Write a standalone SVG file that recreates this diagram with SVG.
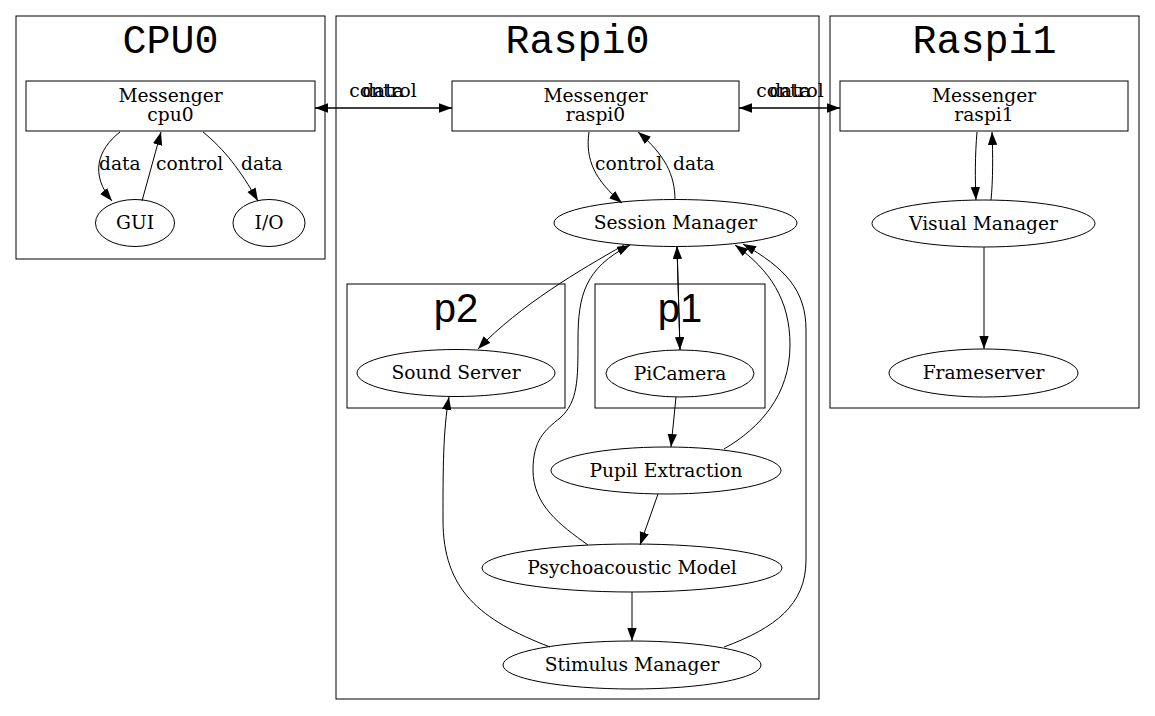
<svg xmlns="http://www.w3.org/2000/svg" width="1155" height="716" viewBox="0 0 1155 716">
<style>
.cl{fill:none;stroke:#000;stroke-width:1}
.nd{fill:none;stroke:#000;stroke-width:1}
.e{fill:none;stroke:#000;stroke-width:1;marker-end:url(#ah)}
.t{font-family:"DejaVu Serif","Liberation Serif",serif;font-size:18.67px;fill:#000}
.m{text-anchor:middle}
.ct{font-family:"Liberation Mono","DejaVu Sans Mono",monospace;font-size:40px;text-anchor:middle;fill:#000}
.pt{font-family:"Liberation Sans",Arial,sans-serif;font-size:40px;text-anchor:middle;fill:#000}
</style>
<defs>
<marker id="ah" markerUnits="userSpaceOnUse" viewBox="0 0 14 10" markerWidth="14" markerHeight="10" refX="13" refY="4.7" orient="auto"><path d="M0,0 L13,4.7 L0,9.4 z" fill="#000"/></marker>
</defs>
<rect width="1155" height="716" fill="#fff"/>
<g id="cluster_cpu0">
<rect class="cl" x="16" y="16" width="309" height="243"/>
<text class="ct" x="170.5" y="53">CPU0</text>
</g>
<g id="cluster_raspi0">
<rect class="cl" x="336" y="16" width="483" height="683"/>
<text class="ct" x="577.5" y="53">Raspi0</text>
</g>
<g id="cluster_raspi1">
<rect class="cl" x="830" y="16" width="309" height="392"/>
<text class="ct" x="984.5" y="53">Raspi1</text>
</g>
<g id="cluster_p2">
<rect class="cl" x="347" y="284" width="218" height="124"/>
<text class="pt" x="456" y="322">p2</text>
</g>
<g id="cluster_p1">
<rect class="cl" x="595" y="284" width="170" height="124"/>
<text class="pt" x="680" y="322">p1</text>
</g>
<g id="messenger_cpu0">
<rect class="nd" x="26" y="81" width="289" height="50"/>
<text class="t m" x="170.5" y="102">Messenger</text>
<text class="t m" x="170.5" y="121">cpu0</text>
</g>
<g id="gui">
<ellipse class="nd" cx="135" cy="223" rx="39.5" ry="23.5"/>
<text class="t m" x="135" y="229">GUI</text>
</g>
<g id="io">
<ellipse class="nd" cx="269" cy="223" rx="36" ry="23.5"/>
<text class="t m" x="269" y="229">I/O</text>
</g>
<g id="messenger_raspi0">
<rect class="nd" x="452" y="81" width="287" height="50"/>
<text class="t m" x="595.5" y="102">Messenger</text>
<text class="t m" x="595.5" y="121">raspi0</text>
</g>
<g id="session_manager">
<ellipse class="nd" cx="675.5" cy="223" rx="121.5" ry="23.5"/>
<text class="t m" x="675.5" y="229">Session Manager</text>
</g>
<g id="sound_server">
<ellipse class="nd" cx="456" cy="373" rx="99" ry="23.5"/>
<text class="t m" x="456" y="379">Sound Server</text>
</g>
<g id="picamera">
<ellipse class="nd" cx="680" cy="373.5" rx="74" ry="23.5"/>
<text class="t m" x="680" y="379.5">PiCamera</text>
</g>
<g id="pupil_extraction">
<ellipse class="nd" cx="666" cy="470.5" rx="115" ry="23.5"/>
<text class="t m" x="666" y="476.5">Pupil Extraction</text>
</g>
<g id="psychoacoustic_model">
<ellipse class="nd" cx="632" cy="568" rx="150" ry="24"/>
<text class="t m" x="632" y="574">Psychoacoustic Model</text>
</g>
<g id="stimulus_manager">
<ellipse class="nd" cx="632" cy="665" rx="129" ry="24"/>
<text class="t m" x="632" y="671">Stimulus Manager</text>
</g>
<g id="messenger_raspi1">
<rect class="nd" x="840" y="81" width="288" height="50"/>
<text class="t m" x="984" y="102">Messenger</text>
<text class="t m" x="984" y="121">raspi1</text>
</g>
<g id="visual_manager">
<ellipse class="nd" cx="983.5" cy="223.5" rx="111.5" ry="23.5"/>
<text class="t m" x="983.5" y="229.5">Visual Manager</text>
</g>
<g id="frameserver">
<ellipse class="nd" cx="983.5" cy="373" rx="94.5" ry="24"/>
<text class="t m" x="983.5" y="379">Frameserver</text>
</g>
<g id="edges">
<path class="e" d="M120,132 C97,150 90,175 112,201"/>
<text class="t" x="99" y="170">data</text>
<path class="e" d="M142,201 L161,132"/>
<text class="t" x="156" y="170">control</text>
<path class="e" d="M203,132 C225,150 240,170 258,201"/>
<text class="t" x="241" y="170">data</text>
<path class="e" d="M315,108 L452,108"/>
<path class="e" d="M452,108 L315,108"/>
<text class="t m" x="383" y="97">control</text>
<text class="t m" x="383" y="97">data</text>
<path class="e" d="M739,108 L840,108"/>
<path class="e" d="M840,108 L739,108"/>
<text class="t m" x="790" y="97">control</text>
<text class="t m" x="790" y="97">data</text>
<path class="e" d="M589,132 C585,160 595,180 622,203"/>
<text class="t" x="595" y="170">control</text>
<path class="e" d="M675,200 C675,175 665,155 638,132"/>
<text class="t" x="673" y="170">data</text>
<path class="e" d="M624,245 C580,270 520,305 478,349"/>
<path class="e" d="M677,246 L680,350"/>
<path class="e" d="M680,350 L677,246"/>
<path class="e" d="M676,397 L671,447"/>
<path class="e" d="M658,494 L640,545"/>
<path class="e" d="M632,592 L632,641"/>
<path class="e" d="M550,647 C480,620 443,590 443,520 C443,470 443,430 449,397"/>
<path class="e" d="M588,545 C560,525 533,505 533,470 C533,440 545,430 560,418 C578,402 578,380 578,340 C578,295 585,268 630,245"/>
<path class="e" d="M724,449 C760,428 790,395 790,345 C790,300 770,270 735,245"/>
<path class="e" d="M724,647 C775,628 806,605 806,560 L806,330 C806,290 785,268 743,244"/>
<path class="e" d="M977,132 C975,155 975,180 976,200"/>
<path class="e" d="M991,200 C993,180 993,155 992,132"/>
<path class="e" d="M984,247 L984,349"/>
</g>
</svg>
